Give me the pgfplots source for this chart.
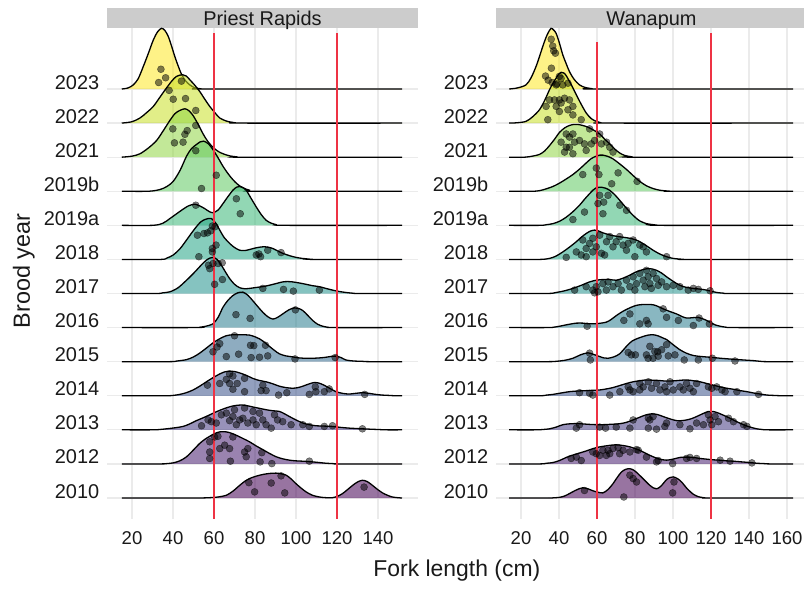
\documentclass[border=0pt]{standalone}
\usepackage{pgfplots}
\pgfplotsset{compat=1.18}
\usepackage{pgfplotstable}
\usepackage{fontspec}
\setmainfont{Liberation Sans}

% viridis, 2010 (A) ... 2023 (M)
\definecolor{vA}{HTML}{440154}
\definecolor{vB}{HTML}{471E6F}
\definecolor{vC}{HTML}{433981}
\definecolor{vD}{HTML}{3B528A}
\definecolor{vE}{HTML}{31678D}
\definecolor{vF}{HTML}{287C8E}
\definecolor{vG}{HTML}{21918C}
\definecolor{vH}{HTML}{22A485}
\definecolor{vI}{HTML}{39B777}
\definecolor{vJ}{HTML}{5FC860}
\definecolor{vK}{HTML}{90D643}
\definecolor{vL}{HTML}{C8E026}
\definecolor{vM}{HTML}{FDE725}
\definecolor{cutline}{HTML}{EE3344}

% ---------- Priest Rapids: density curves (x, height above baseline) ----------
\pgfplotstableread{
x h
15.0 0
18 0.03
20.6 0.12
23 0.3
25.5 0.66
28 1.05
30.4 1.44
32.5 1.68
34.4 1.78
36 1.72
37.7 1.54
39.5 1.22
40.9 0.95
42.5 0.68
44.1 0.44
46 0.25
48.2 0.12
50.5 0.04
53 0.01
56 0
151.7 0
}\lcM
\pgfplotstableread{
x h
15.0 0
20 0.04
23.9 0.15
27 0.3
30.4 0.49
33.5 0.75
36.8 1.03
39.5 1.24
41.7 1.37
44.6 1.42
46.5 1.38
48.2 1.27
50.5 1.12
53.0 0.93
55.5 0.7
57.9 0.49
60.5 0.3
62.8 0.15
66 0.06
69.2 0.02
74 0
151.7 0
}\lcL
\pgfplotstableread{
x h
15.0 0
20 0.03
23.9 0.1
28 0.27
32 0.49
35.5 0.8
38.5 1.08
41 1.28
43.3 1.37
45.8 1.42
47.8 1.36
49.8 1.22
52.3 0.96
54.7 0.68
57 0.46
59.5 0.29
62 0.17
64.4 0.1
67.5 0.04
70.9 0.01
75 0
151.7 0
}\lcK
\pgfplotstableread{
x h
15.0 0
28 0
33.6 0.05
37 0.14
40.1 0.29
43.5 0.62
46.6 1.03
49 1.25
51.4 1.37
53.3 1.45
55.0 1.47
57.3 1.39
59.5 1.22
62 0.98
64.4 0.73
66.8 0.52
69.2 0.34
71.6 0.2
74.1 0.1
77.3 0.03
80.6 0
151.7 0
}\lcJ
\pgfplotstableread{
x h
15 0
30 0
35 0.06
38.5 0.2
41.3 0.32
44.1 0.44
47.5 0.57
50.6 0.62
53 0.57
55.5 0.49
57.5 0.41
59.5 0.37
62 0.45
64.4 0.64
67 0.86
69.2 1.03
71 1.12
72.5 1.14
74 1.11
75.7 1.03
78 0.8
80.6 0.54
83 0.32
85.4 0.15
88 0.06
90.3 0.02
95.2 0
151.7 0
}\lcI
\pgfplotstableread{
x h
15 0
34 0
37 0.04
40.1 0.13
43.5 0.32
46.6 0.57
49 0.77
51.4 0.96
53.5 1.1
55.5 1.17
57.2 1.2
58.7 1.2
60.8 1.07
62.8 0.86
65 0.64
67.6 0.47
70 0.35
72.5 0.27
75 0.26
77.3 0.29
80.5 0.34
83.8 0.37
86.3 0.36
88.7 0.32
91 0.25
93.5 0.18
96.8 0.11
100 0.06
103 0.03
106.5 0.01
110 0
151.7 0
}\lcH
\pgfplotstableread{
x h
15 0
32 0
35 0.02
38.5 0.05
42.5 0.17
46.6 0.39
49 0.53
51.4 0.68
54 0.85
56.3 0.98
58 1.04
59.5 1.06
61.5 1.0
63.6 0.83
65.6 0.63
67.6 0.44
70 0.27
72.5 0.17
75 0.14
77.3 0.15
81 0.18
85.4 0.22
89.5 0.28
93.5 0.34
96 0.35
98.4 0.34
101.5 0.31
104.9 0.27
108 0.23
111.4 0.2
114.5 0.15
117.8 0.1
121 0.06
124.3 0.03
127.5 0.01
130.8 0
151.7 0
}\lcG
\pgfplotstableread{
x h
15 0
50 0
53 0.01
56 0.04
59.5 0.11
62 0.3
64.4 0.6
66.8 0.8
69.2 0.94
71.6 1.02
74.1 1.04
76.5 0.95
78.9 0.79
81.3 0.62
83.8 0.45
86.2 0.32
88.7 0.25
91 0.3
93.5 0.4
96.5 0.52
99.2 0.58
101.3 0.56
103.3 0.5
105.7 0.36
108.1 0.21
110.5 0.1
113 0.04
115.5 0.01
117.8 0
151.7 0
}\lcF
\pgfplotstableread{
x h
15 0
38 0
42 0.02
46.6 0.06
50 0.14
53 0.25
56.3 0.4
59.5 0.55
62.7 0.67
65.9 0.76
69.2 0.79
72.5 0.79
75 0.79
77.3 0.78
80 0.73
82.2 0.67
84.6 0.57
87.0 0.45
89.5 0.33
91.9 0.23
95 0.17
98.4 0.14
101.5 0.11
104.9 0.1
108 0.1
111.4 0.11
114.6 0.13
117.8 0.16
120 0.16
122 0.12
124.3 0.05
128 0.02
132.4 0.01
136 0
151.7 0
}\lcE
\pgfplotstableread{
x h
15 0
36 0
40 0.01
43.3 0.04
46.5 0.09
49.8 0.17
53 0.28
56.3 0.41
59.5 0.53
62.8 0.64
65.2 0.7
67.6 0.72
70 0.71
72.5 0.67
75.7 0.6
78.9 0.51
82 0.45
85.4 0.41
88.7 0.35
91.9 0.28
95 0.24
98.4 0.22
101 0.24
103.3 0.28
106 0.34
109 0.39
111.8 0.36
114.6 0.28
117 0.2
119.5 0.12
122.7 0.07
125.9 0.05
129 0.07
132.4 0.09
135.6 0.07
138.9 0.04
142 0.02
145.4 0.01
148 0
151.7 0
}\lcD
\pgfplotstableread{
x h
15 0
30 0
33.5 0.01
36.8 0.03
41 0.06
44.9 0.1
48 0.17
51.4 0.27
54.6 0.35
57.9 0.44
61.1 0.53
64.4 0.61
66.8 0.66
69.2 0.7
71.3 0.72
73.3 0.73
76 0.71
79 0.67
82.2 0.63
85.4 0.59
88.7 0.56
91.9 0.54
94.4 0.47
96.8 0.39
100 0.29
103.3 0.2
106.5 0.15
109.7 0.12
113.8 0.11
117.8 0.1
122 0.07
126 0.05
129 0.04
132.4 0.03
136 0.02
140 0.01
144 0
151.7 0
}\lcC
\pgfplotstableread{
x h
15 0
34 0
37 0.01
40 0.03
43.3 0.09
46.6 0.21
49.8 0.4
53 0.6
55.5 0.72
57.9 0.81
60.3 0.89
62.8 0.94
66 0.94
68.5 0.9
70.9 0.84
74 0.75
77.3 0.65
80.5 0.53
83.8 0.42
87 0.31
90.3 0.21
93.5 0.15
96.8 0.11
100 0.09
103.3 0.08
106 0.07
108 0.06
111.4 0.04
114.6 0.02
118 0.01
121 0
151.7 0
}\lcB
\pgfplotstableread{
x h
15 0
52 0
55 0.003
57.9 0.01
62 0.03
66 0.08
69.2 0.2
72.5 0.37
75 0.49
77.3 0.57
80.5 0.64
83.8 0.69
87 0.72
90.3 0.73
92.8 0.71
95.2 0.67
97.6 0.56
100 0.42
102.5 0.29
104.9 0.18
108 0.08
111.4 0.03
114.6 0.01
117.8 0.01
120.2 0.05
122.7 0.13
125.2 0.25
127.6 0.37
130 0.47
132.4 0.52
134.8 0.48
137.3 0.37
139.8 0.25
142.2 0.15
144.6 0.08
147 0.03
149.5 0.01
151.7 0
}\lcA

% ---------- Priest Rapids: fish ----------
\pgfplotstableread{
x h
34.1 0.58
36.4 0.33
33.0 0.19
}\lpM
\pgfplotstableread{
x h
44.1 1.23
38.1 0.96
40.1 0.70
46.1 0.72
}\lpL
\pgfplotstableread{
x h
51.1 1.37
39.9 0.83
46.9 0.78
45.8 0.67
51.1 0.93
40.7 0.42
44.9 0.44
}\lpK
\pgfplotstableread{
x h
51.1 1.19
61.1 0.47
53.9 0.08
}\lpJ
\pgfplotstableread{
x h
70.9 0.78
72.8 0.34
51.1 0.59
}\lpI
\pgfplotstableread{
x h
51.9 0.71
55.1 0.76
56.8 0.78
59.2 0.98
60.5 0.96
58.4 0.84
61 0.42
59.2 0.32
59.2 0.22
52.6 0.08
80.6 0.13
82.7 0.08
81.9 0.16
86.2 0.27
92.7 0.2
}\lpH
\pgfplotstableread{
x h
57.9 0.73
59.5 0.88
62 0.88
64 0.9
57.3 0.83
64.1 0.41
60.3 0.27
83.8 0.15
93.9 0.12
98.7 0.07
111.4 0.1
}\lpG
\pgfplotstableread{
x h
70.7 0.38
77.6 0.27
99.7 0.52
}\lpF
\pgfplotstableread{
x h
70 0.76
62.8 0.53
61.5 0.43
77.8 0.48
79.4 0.47
85.1 0.48
59.5 0.29
66 0.15
72 0.22
78.1 0.12
82.2 0.13
86.2 0.17
99.5 0.08
119.1 0.12
}\lpE
\pgfplotstableread{
x h
56.8 0.31
62.8 0.36
67.6 0.64
69.2 0.58
66 0.48
67.6 0.36
71.3 0.36
69.2 0.19
74.9 0.12
74.9 0.51
83.8 0.31
83 0.15
85.4 0.15
91.5 0.02
95.5 0.09
106.5 0.04
109.4 0.26
109.7 0.12
113.8 0.12
116.2 0.2
133.5 0.04
}\lpD
\pgfplotstableread{
x h
53.9 0.12
57.1 0.29
58.7 0.24
61.1 0.2
63.6 0.44
66 0.49
67.6 0.27
69.2 0.39
70.9 0.15
72.5 0.29
74.9 0.64
74.1 0.34
76.5 0.2
79 0.29
80.6 0.15
82.2 0.49
83.8 0.29
85.4 0.15
87.9 0.05
89.5 0.44
91 0.29
93.5 0.24
97.6 0.15
103.3 0.15
106.5 0.1
113.8 0.1
117.8 0.12
132.4 0.03
70 0.59
79 0.54
}\lpC
\pgfplotstableread{
x h
57.9 0.65
60.3 0.79
61.9 0.81
57.9 0.35
57.9 0.16
62.8 0.45
65.2 0.55
67.6 0.45
69.2 0.79
68 0.08
74.9 0.35
75.7 0.21
76.5 0.45
83.3 0.33
82.5 0.06
88.2 0.01
106.5 0.08
}\lpB
\pgfplotstableread{
x h
77.0 0.45
79.8 0.18
87.9 0.44
92.7 0.65
94.5 0.15
133.2 0.32
}\lpA

% ---------- Wanapum: density curves ----------
\pgfplotstableread{
x h
13.8 0
18 0.03
22.6 0.12
25.3 0.33
27.9 0.66
29.7 0.95
31.4 1.24
32.8 1.46
34.1 1.63
35.8 1.78
37.2 1.73
38.5 1.63
40.2 1.35
42 1.0
43.8 0.74
45.5 0.51
48 0.28
50.8 0.12
53.5 0.05
56.1 0.02
60 0
163.2 0
}\rcM
\pgfplotstableread{
x h
13.8 0
18 0.01
22.6 0.05
26 0.18
29.7 0.39
32.4 0.66
35 0.98
36.8 1.17
38.5 1.32
39.8 1.43
41.1 1.49
42.5 1.47
43.8 1.39
46.5 1.12
49.1 0.83
51.8 0.54
54.4 0.29
57 0.13
59.6 0.05
62 0.01
65 0
163.2 0
}\rcL
\pgfplotstableread{
x h
13.8 0
22 0
26 0.03
29.7 0.08
32.4 0.18
35 0.34
37.7 0.53
40.3 0.73
43 0.86
45.5 0.93
47.8 0.96
49.9 0.96
52.5 0.93
55.2 0.88
58.3 0.79
61.4 0.68
64 0.53
66.7 0.39
69.3 0.24
72 0.12
74.6 0.05
77.3 0.02
80 0
163.2 0
}\rcK
\pgfplotstableread{
x h
13.8 0
26 0
30 0.02
33.2 0.07
36.8 0.14
40.3 0.24
43.8 0.36
47.3 0.49
50.8 0.65
54.3 0.83
57 0.96
59.6 1.03
61.4 1.06
63.1 1.06
65.8 1.02
68.4 0.95
72 0.8
75.5 0.64
79 0.46
82.5 0.29
86 0.16
89.5 0.08
93 0.03
96.6 0.01
100 0
163.2 0
}\rcJ
\pgfplotstableread{
x h
13.8 0
30 0
33.5 0.02
36.8 0.05
40.3 0.12
43.8 0.24
47.3 0.4
50.8 0.59
53.5 0.77
56.1 0.93
58 1.04
59.6 1.1
62.3 1.12
64.5 1.09
66.6 1.03
69.3 0.9
72 0.73
74.6 0.56
77.3 0.39
80 0.24
82.5 0.13
86 0.05
89.5 0.02
93 0
163.2 0
}\rcI
\pgfplotstableread{
x h
13.8 0
30 0
35 0.03
38.5 0.1
42 0.22
45.5 0.36
49.1 0.52
51.7 0.65
54.3 0.76
56.5 0.83
58.7 0.86
61 0.83
63.1 0.78
66.6 0.72
70.1 0.68
73.7 0.65
77.3 0.62
80 0.58
82.5 0.52
86 0.4
89.5 0.27
93 0.16
96.6 0.08
100 0.03
103.6 0.01
107 0
163.2 0
}\rcH
\pgfplotstableread{
x h
13.8 0
34 0
38.5 0.03
43 0.08
47.3 0.15
51.7 0.24
56.1 0.34
59.6 0.39
63.1 0.41
66.6 0.41
70.1 0.39
73.7 0.45
77.3 0.54
80 0.62
82.5 0.67
84.7 0.71
86.9 0.73
89 0.72
91.3 0.68
94 0.6
96.6 0.49
100 0.36
103.6 0.24
107 0.18
110.7 0.15
114 0.13
117.7 0.1
120.5 0.06
123 0.03
126.5 0.01
130 0
163.2 0
}\rcG
\pgfplotstableread{
x h
13.8 0
34 0
37 0.01
40.3 0.04
44.7 0.09
49.1 0.13
52.6 0.13
56.1 0.11
60.5 0.12
64.9 0.16
67.5 0.24
70.1 0.35
73.7 0.48
77.3 0.58
80 0.64
82.5 0.67
86 0.68
89.5 0.67
92.1 0.62
94.8 0.55
98.4 0.47
101.9 0.4
104.5 0.33
107.1 0.28
110.2 0.29
113.3 0.3
115.5 0.26
117.7 0.21
120.3 0.13
122.6 0.07
124.8 0.04
128 0.01
131.8 0
163.2 0
}\rcF
\pgfplotstableread{
x h
13.8 0
34 0
38.5 0.01
43 0.04
47.3 0.1
51.3 0.2
55.2 0.26
58.3 0.21
61.4 0.15
63.6 0.11
65.8 0.1
68.8 0.14
71.9 0.23
75.5 0.45
78.3 0.6
81.3 0.68
84.3 0.74
87 0.78
89.5 0.79
92 0.76
94.5 0.7
96.6 0.65
100 0.5
103.6 0.35
107 0.25
110.7 0.18
115 0.15
119.5 0.13
125 0.1
131.8 0.07
137 0.05
142.4 0.03
146 0.01
149.4 0
163.2 0
}\rcE
\pgfplotstableread{
x h
13.8 0
30 0
33.5 0.02
36.8 0.04
41 0.08
45.5 0.12
50 0.14
54.3 0.15
57.8 0.16
61.4 0.17
64.9 0.2
68.4 0.24
72 0.3
75.5 0.36
79 0.41
82.5 0.44
85 0.46
87.8 0.46
92 0.45
96.6 0.43
101 0.44
105.4 0.46
108 0.46
110.7 0.44
114.2 0.41
117.7 0.36
121.3 0.31
124.8 0.26
128.3 0.22
131.8 0.19
135.4 0.15
138.9 0.12
142.5 0.08
146 0.05
149.5 0.02
153 0.01
157 0
163.2 0
}\rcD
\pgfplotstableread{
x h
13.8 0
28 0
31.5 0.01
35 0.03
38.5 0.08
42 0.15
46.4 0.18
50.8 0.18
56 0.16
61.4 0.15
66.6 0.16
71.9 0.18
75.5 0.22
78.9 0.29
81.6 0.35
84.3 0.41
86.5 0.45
88.7 0.47
91.7 0.45
94.8 0.39
98.4 0.32
101.9 0.27
104.5 0.27
107.1 0.29
109.8 0.33
112.4 0.39
115.5 0.47
118.6 0.54
120.8 0.54
123 0.51
126.5 0.43
130 0.34
133.5 0.24
137.1 0.15
140.6 0.08
144.1 0.03
147 0.01
149.4 0
163.2 0
}\rcC
\pgfplotstableread{
x h
13.8 0
30 0
33.5 0.02
36.8 0.04
40.3 0.1
43.8 0.19
47.3 0.26
50.8 0.32
54.3 0.38
57.9 0.45
61.4 0.5
64.9 0.53
67.5 0.55
70.1 0.56
73.7 0.54
77.3 0.5
80 0.45
82.5 0.4
86 0.3
89.5 0.21
93 0.14
96.6 0.11
100 0.14
103.6 0.19
107.1 0.2
110.7 0.19
114.2 0.16
117.7 0.14
121.3 0.12
124.8 0.11
128.3 0.09
131.8 0.08
136 0.06
140.6 0.04
144 0.02
147.7 0.01
151 0
163.2 0
}\rcB
\pgfplotstableread{
x h
13.8 0
34 0
37 0.005
40.3 0.02
43 0.06
45.5 0.13
48.5 0.22
50.5 0.27
52.5 0.3
55.2 0.27
57.9 0.21
60.5 0.17
63.1 0.15
65.8 0.25
68.4 0.42
70.6 0.6
72.8 0.76
75 0.84
77.3 0.86
79.5 0.81
81.6 0.71
84.7 0.54
87.8 0.37
89.5 0.3
91.3 0.27
93.5 0.34
96.6 0.54
98.4 0.6
100.1 0.62
102.3 0.57
104.5 0.47
107.5 0.27
110.7 0.11
113.3 0.04
116 0.01
119 0
163.2 0
}\rcA

% ---------- Wanapum: fish ----------
\pgfplotstableread{
x h
35.9 1.46
36.7 1.26
37.2 1.12
38.1 1.05
36 0.61
32.9 0.38
34.3 0.26
36.4 0.19
38.9 0.15
41.1 0.31
}\rpM
\pgfplotstableread{
x h
40.2 1.37
38.5 1.12
42 1.12
44.7 1.17
35 0.68
37.6 0.68
40.2 0.68
42.9 0.73
45.5 0.68
33.2 0.49
38.5 0.49
41.1 0.59
44.7 0.39
47.3 0.49
34.1 0.1
40.2 0.34
47.3 0.24
51.7 0.1
}\rpL
\pgfplotstableread{
x h
43.8 0.68
45.5 0.59
47.3 0.68
41.1 0.44
43.8 0.29
45.5 0.29
48.2 0.44
50.8 0.49
53.4 0.39
56.1 0.83
57 0.39
58.7 0.49
61.4 0.68
62.3 0.39
65 0.44
66.7 0.29
68.4 0.15
47.3 0.1
54.3 0.2
42.9 0.15
}\rpK
\pgfplotstableread{
x h
52.5 0.49
59.6 0.68
61 0.49
71.1 0.54
81.1 0.29
67.7 0.22
}\rpJ
\pgfplotstableread{
x h
61.4 0.88
63.5 0.68
60.5 0.64
65.8 0.88
72 0.59
75.5 0.44
53.4 0.39
47.3 0.17
63.1 0.34
}\rpI
\pgfplotstableread{
x h
43.8 0.06
49.1 0.22
51.7 0.13
54.3 0.32
56.1 0.47
57.8 0.62
57.8 0.22
59.6 0.37
61.4 0.71
62.3 0.18
65 0.52
66.7 0.67
68.4 0.37
70.1 0.52
71.9 0.67
73.7 0.42
75.5 0.27
79 0.57
79.9 0.08
82.5 0.42
84.3 0.37
86 0.22
96.6 0.08
54.3 0.08
64 0.13
52.5 0.57
76.4 0.47
}\rpH
\pgfplotstableread{
x h
48.2 0.1
54.3 0.2
57.8 0.1
58.7 0.02
59.6 0.2
60.5 0.05
63.1 0.29
65.8 0.34
68.4 0.2
71.1 0.29
72.8 0.1
75.5 0.39
77.3 0.2
79 0.49
80.8 0.29
82.5 0.59
84.3 0.39
86 0.68
86.9 0.49
87.8 0.29
89.5 0.59
91.3 0.44
92.2 0.24
94 0.34
96.6 0.2
100.1 0.24
103.6 0.2
108 0.1
110.7 0.15
113.3 0.12
119.5 0.08
64.9 0.1
79.9 0.1
85.2 0.2
88.6 0.15
}\rpG
\pgfplotstableread{
x h
54.8 0.04
74.1 0.21
77.3 0.4
82.5 0.11
86 0.21
86.9 0.11
94.8 0.55
96.6 0.3
102.8 0.21
110.7 0.06
113.7 0.28
119.1 0.11
}\rpF
\pgfplotstableread{
x h
56.1 0.25
56.5 0.05
76.4 0.27
78.1 0.2
80.2 0.2
87.8 0.45
90.4 0.3
94 0.35
96.6 0.5
86 0.2
92.2 0.16
101 0.2
86.9 0.1
89.5 0.1
91.9 0.29
97.5 0.17
105.9 0.05
113.3 0.05
120.7 0.1
132.6 0.02
}\rpE
\pgfplotstableread{
x h
50.8 0.09
56.1 0.07
57.8 0.02
66.7 0.02
72 0.12
76.4 0.26
77.3 0.17
79 0.12
82.5 0.36
84.3 0.26
87 0.41
88.7 0.22
91.3 0.36
93.1 0.17
95.7 0.26
98.4 0.41
100.1 0.17
103.6 0.26
105.4 0.17
107.1 0.36
108.9 0.22
110.7 0.12
112.4 0.36
118.6 0.26
120.4 0.22
123 0.26
125.7 0.17
127.4 0.12
133.6 0.12
145 0.04
82.5 0.17
96.6 0.12
}\rpD
\pgfplotstableread{
x h
50.8 0.15
49.1 0.05
61.4 0.08
64.5 0.05
70.1 0.08
77.3 0.05
87 0.34
87.8 0.29
89.5 0.39
87 0.05
91.3 0.02
95.7 0.1
96.6 0.2
103.6 0.15
108.9 0.03
112.4 0.2
116 0.15
118.6 0.44
119.5 0.29
120.4 0.15
122.1 0.39
123.9 0.24
129.2 0.34
131.8 0.24
137.1 0.15
138.9 0.1
79 0.29
}\rpC
\pgfplotstableread{
x h
46.4 0.16
49.1 0.2
51.7 0.1
57.8 0.35
59.6 0.3
61.4 0.25
63.1 0.4
64.9 0.25
66.7 0.3
68.4 0.45
71.1 0.48
71.9 0.3
73.7 0.4
77.3 0.35
80.8 0.42
81.7 0.4
86 0.2
91.3 0.06
92.2 0.1
99.8 0.01
107.1 0.16
108.9 0.19
112.4 0.16
124.8 0.11
130 0.08
141.5 0.03
65.8 0.4
}\rpB
\pgfplotstableread{
x h
53.4 0.22
77.3 0.67
79 0.57
80.8 0.47
100.5 0.47
99.8 0.15
74.1 0.03
}\rpA

% one ridge: colour, baseline, curve table, fish table
\newcommand{\ridge}[4]{%
  \addplot[smooth, tension=0.5, fill=#1, fill opacity=0.55, draw=black, line width=1.3bp]
    table[x=x, y expr=\thisrow{h}+#2] {#3};
  \addplot[only marks, mark=*, mark size=3.5bp,
    mark options={fill=black, fill opacity=0.5, draw=black, draw opacity=0.55, line width=0.4bp}]
    table[x=x, y expr=\thisrow{h}+#2] {#4};
}

\pgfplotsset{
  ridgeaxis/.style={
    scale only axis, width=311bp, height=491bp,
    anchor=south west, clip=false,
    ymin=-0.616, ymax=13.79,
    ytick={0,...,12},
    yticklabels={2010,2012,2013,2014,2015,2016,2017,2018,2019a,2019b,2021,2022,2023},
    axis line style={draw=none},
    major tick length=0pt,
    grid=major,
    grid style={line width=1.2bp, color=black!8},
    yticklabel style={anchor=base east, xshift=-4.3bp, font=\fontsize{20}{22}\selectfont, text=black!90},
    xticklabel style={yshift=-9bp, font=\fontsize{18.6}{20}\selectfont, text=black!90},
  },
  cutstyle/.style={draw=cutline, line width=1.6bp, mark=none, opacity=1},
}

\begin{document}
\begin{tikzpicture}
\useasboundingbox (0,0) rectangle (804bp,590bp);

\begin{axis}[ridgeaxis, at={(107bp,71bp)},
    xmin=7.8, xmax=159.5,
    xtick={20,40,...,140},
    xticklabels={20,40,60,80,100,120,140}]
  \fill[black!20] (rel axis cs:0,1) rectangle (rel axis cs:1,1.0407);
  \node[anchor=base, font=\fontsize{20}{22}\selectfont, text=black!90] at (rel axis cs:0.5,1.0047) {Priest Rapids};
  \ridge{vM}{12}{\lcM}{\lpM}
  \ridge{vL}{11}{\lcL}{\lpL}
  \ridge{vK}{10}{\lcK}{\lpK}
  \ridge{vJ}{9}{\lcJ}{\lpJ}
  \ridge{vI}{8}{\lcI}{\lpI}
  \ridge{vH}{7}{\lcH}{\lpH}
  \ridge{vG}{6}{\lcG}{\lpG}
  \ridge{vF}{5}{\lcF}{\lpF}
  \ridge{vE}{4}{\lcE}{\lpE}
  \ridge{vD}{3}{\lcD}{\lpD}
  \ridge{vC}{2}{\lcC}{\lpC}
  \ridge{vB}{1}{\lcB}{\lpB}
  \ridge{vA}{0}{\lcA}{\lpA}
  \addplot[cutstyle] coordinates {(60,13.64) (60,-0.616)};
  \addplot[cutstyle] coordinates {(120,13.64) (120,-0.616)};
  \node[rotate=90, anchor=base, font=\fontsize{23.5}{26}\selectfont, text=black!90] at (rel axis cs:-0.2476,0.5051) {Brood year};
  \node[anchor=base, font=\fontsize{23}{26}\selectfont, text=black!90] at (rel axis cs:1.125,-0.1181) {Fork length (cm)};
\end{axis}

\begin{axis}[ridgeaxis, at={(496bp,71bp)},
    xmin=6.84, xmax=170.5,
    xtick={20,40,...,160},
    xticklabels={20,40,60,80,100,120,140,160}]
  \fill[black!20] (rel axis cs:0,1) rectangle (rel axis cs:1,1.0407);
  \node[anchor=base, font=\fontsize{20}{22}\selectfont, text=black!90] at (rel axis cs:0.5,1.0047) {Wanapum};
  \ridge{vM}{12}{\rcM}{\rpM}
  \ridge{vL}{11}{\rcL}{\rpL}
  \ridge{vK}{10}{\rcK}{\rpK}
  \ridge{vJ}{9}{\rcJ}{\rpJ}
  \ridge{vI}{8}{\rcI}{\rpI}
  \ridge{vH}{7}{\rcH}{\rpH}
  \ridge{vG}{6}{\rcG}{\rpG}
  \ridge{vF}{5}{\rcF}{\rpF}
  \ridge{vE}{4}{\rcE}{\rpE}
  \ridge{vD}{3}{\rcD}{\rpD}
  \ridge{vC}{2}{\rcC}{\rpC}
  \ridge{vB}{1}{\rcB}{\rpB}
  \ridge{vA}{0}{\rcA}{\rpA}
  \addplot[cutstyle] coordinates {(60,13.38) (60,-0.616)};
  \addplot[cutstyle] coordinates {(120,13.64) (120,-0.616)};
\end{axis}
\end{tikzpicture}
\end{document}
